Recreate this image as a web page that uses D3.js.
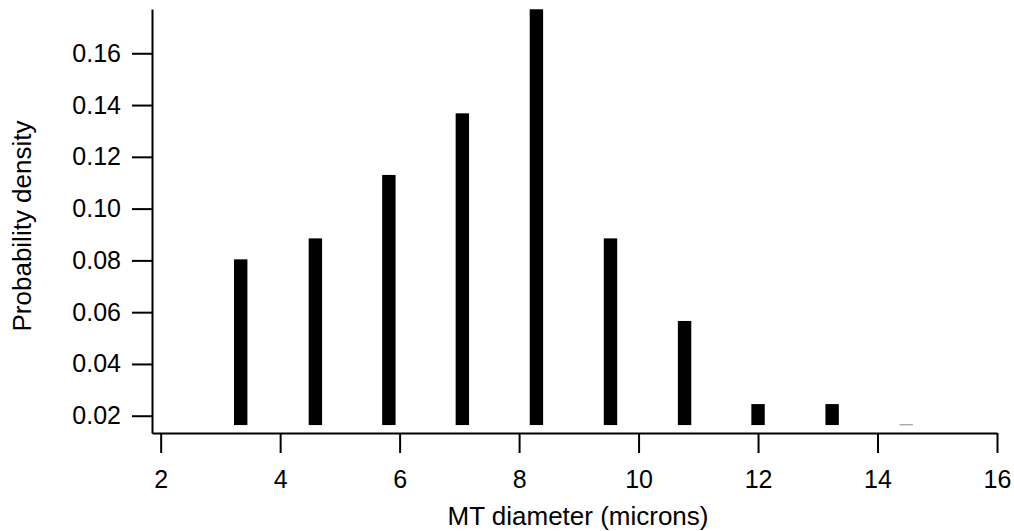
<!DOCTYPE html>
<html>
<head>
<meta charset="utf-8">
<script src="https://cdn.jsdelivr.net/npm/d3@7"></script>
<style>
  body { margin: 0; background: #fff; }
  text { font-family: "Liberation Sans", Arial, sans-serif; fill: #000; }
</style>
</head>
<body>
<div id="chart"></div>
<script>
// 1: DATA
const binCenters = [3.34, 4.59, 5.82, 7.05, 8.29, 9.53, 10.77, 12.0, 13.24, 14.48];
const densities = [0.0804, 0.0885, 0.113, 0.1368, 0.177, 0.0885, 0.0566, 0.0245, 0.0245, 0.0167];
const barBase = 0.0164;   // bars start a bit above the axis line
const xTicks = [2, 4, 6, 8, 10, 12, 14, 16];
const yTicks = [0.02, 0.04, 0.06, 0.08, 0.10, 0.12, 0.14, 0.16];

const data = binCenters.map((x, i) => ({ x: x, y: densities[i] }));

// 2: SIZES
const margin = { top: 9, right: 17, bottom: 98, left: 152 };
const width = 1014 - margin.left - margin.right;
const height = 531 - margin.top - margin.bottom;

const svg = d3.select("#chart")
    .append("svg")
    .attr("width", 1014)
    .attr("height", 531)
    .append("g")
    .attr("transform", `translate(${margin.left},${margin.top})`);

// 3: SCALES
const xScale = d3.scaleLinear()
    .domain([1.855, 16])
    .range([0, width]);

const yScale = d3.scaleLinear()
    .domain([0.01333, 0.1771])
    .range([height, 0]);

// 4: BARS
svg.append("clipPath")
    .attr("id", "plotClip")
    .append("rect")
    .attr("width", width)
    .attr("height", height);

const barWidth = 13.4;
svg.append("g")
    .attr("clip-path", "url(#plotClip)")
    .selectAll("rect")
    .data(data)
    .enter()
    .append("rect")
    .attr("x", d => xScale(d.x) - barWidth / 2)
    .attr("y", d => yScale(d.y))
    .attr("width", barWidth)
    .attr("height", d => Math.max(1, yScale(barBase) - yScale(d.y)))
    .attr("fill", (d, i) => i === data.length - 1 ? "#888" : "#000");

// 5: AXES
const xAxis = svg.append("g")
    .attr("transform", `translate(0,${height})`)
    .call(d3.axisBottom(xScale)
        .tickValues(xTicks)
        .tickFormat(d3.format("d"))
        .tickSizeInner(20)
        .tickSizeOuter(0)
        .tickPadding(17));

const yAxis = svg.append("g")
    .call(d3.axisLeft(yScale)
        .tickValues(yTicks)
        .tickFormat(d3.format(".2f"))
        .tickSizeInner(20)
        .tickSizeOuter(0)
        .tickPadding(11));

[xAxis, yAxis].forEach(ax => {
    ax.select(".domain").attr("stroke", "#000").attr("stroke-width", 2);
    ax.selectAll(".tick line").attr("stroke", "#000").attr("stroke-width", 2);
    ax.selectAll(".tick text")
        .attr("font-size", "25px")
        .attr("font-family", "Liberation Sans, Arial, sans-serif")
        .attr("fill", "#000");
});

// 6: LABELS
svg.append("text")
    .attr("x", 426)
    .attr("y", height + 92)
    .attr("text-anchor", "middle")
    .attr("font-size", "26px")
    .text("MT diameter (microns)");

svg.append("text")
    .attr("transform", "rotate(-90)")
    .attr("x", -(226 - margin.top))
    .attr("y", -margin.left + 31)
    .attr("text-anchor", "middle")
    .attr("font-size", "26px")
    .text("Probability density");
</script>
</body>
</html>
